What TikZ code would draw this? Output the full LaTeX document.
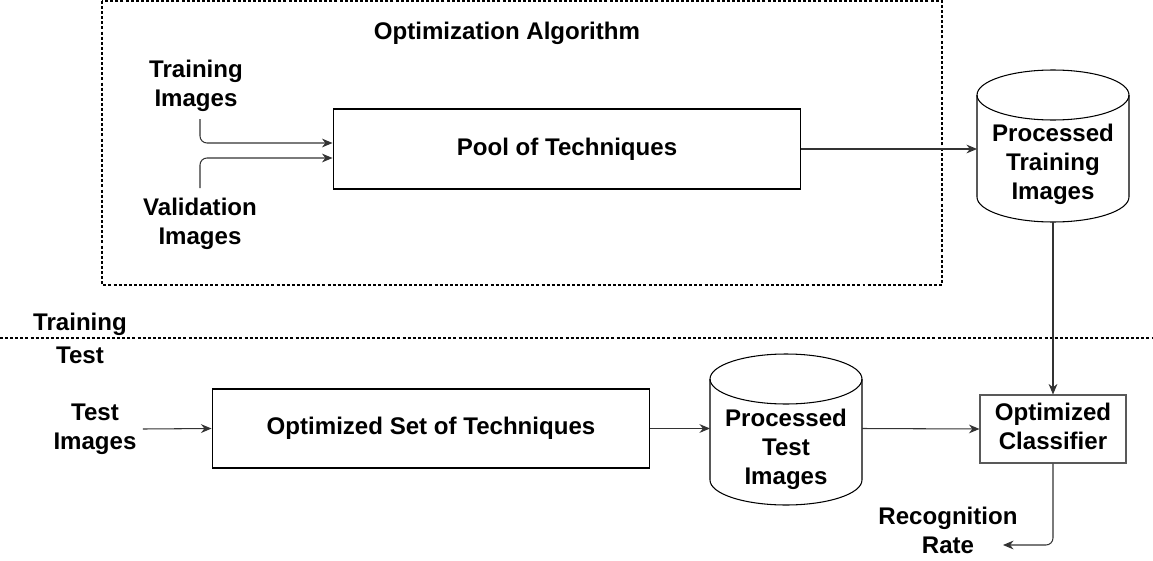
\documentclass[tikz,border=0pt]{standalone}
\usepackage{fontspec}
\setmainfont{Liberation Sans}
\usetikzlibrary{arrows.meta}

\begin{document}
\begin{tikzpicture}[x=0.02cm, y=-0.02cm, line width=0.6pt,
	every node/.style={font=\bfseries\fontsize{13.7}{16.5}\selectfont, align=center},
	box node/.style={draw, inner sep=0pt},
	flow/.style={draw=black!80, -{Stealth[length=6pt,width=5pt]}, rounded corners=4pt},
	sep line/.style={dash pattern=on 1.7pt off 1.2pt},
	disk radii/.style={x radius=1.52cm, y radius=0.5cm}]

	\useasboundingbox (0,0) rectangle (1153,561);

	% training part
	\draw[sep line] (102,1) rectangle (942,285);
	\node (optalg) at (507,33) {Optimization Algorithm};
	\node (trainimg) at (196,86) {Training\\Images};
	\node (valimg) at (200,224) {Validation\\Images};
	\node[box node, minimum width=9.36cm, minimum height=1.6cm] (pool) at (567,149) {Pool of Techniques};

	% processed training images
	\draw (977,95) -- (977,197) arc[start angle=180, end angle=360, disk radii] -- (1129,95);
	\draw (1053,95) ellipse[disk radii];
	\node (proctrain) at (1053,164) {Processed\\Training\\Images};
	\coordinate (proctrainin) at (977,149);
	\coordinate (proctrainout) at (1053,222);

	\coordinate (trainstart) at (200,119);
	\coordinate (valstart) at (200,188);
	\draw[flow] (trainstart) |- (pool.west |- 0,143);
	\draw[flow] (valstart) |- (pool.west |- 0,158);
	\draw[flow] (pool.east) -- (proctrainin);

	% split
	\draw[sep line] (0,338) -- (1153,338);
	\node (trainlbl) at (80,324) {Training};
	\node (testlbl) at (80,355) {Test};

	% test part
	\node (testimg) at (95,429) {Test\\Images};
	\node[box node, minimum width=8.76cm, minimum height=1.58cm] (optset) at (431,428.5) {Optimized Set of Techniques};

	% processed test images
	\draw (710,379) -- (710,480) arc[start angle=180, end angle=360, disk radii] -- (862,379);
	\draw (786,379) ellipse[disk radii];
	\node (proctest) at (786,449) {Processed\\Test\\Images};
	\coordinate (proctestin) at (710,428.5);
	\coordinate (proctestout) at (862,428.5);

	\node[box node, draw=black!65, minimum width=2.92cm, minimum height=1.36cm, text depth=0.12cm] (classifier) at (1053,429) {Optimized\\Classifier};
	\node (recog) at (948,530) {Recognition\\Rate};
	\coordinate (recogend) at (1003,545);

	\path[every edge/.style={flow}]
	 (testimg.east) edge (optset.west)
	 (optset.east) edge (proctestin)
	 (proctestout) edge (classifier.west)
	 (proctrainout) edge (classifier.north);
	\draw[flow] (classifier.south) |- (recogend);

\end{tikzpicture}
\end{document}
